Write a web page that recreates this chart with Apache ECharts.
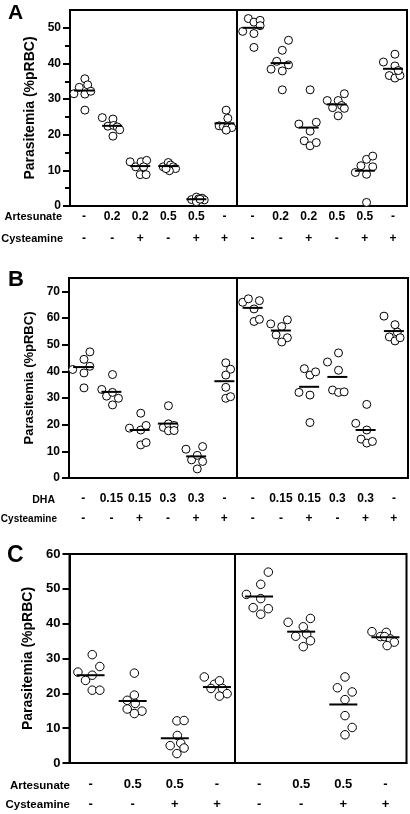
<!DOCTYPE html>
<html><head><meta charset="utf-8">
<script src="https://cdn.jsdelivr.net/npm/echarts@6/dist/echarts.min.js"></script>
<style>html,body{margin:0;padding:0;background:#fff}#c{width:410px;height:814px}</style>
</head><body><div id="c"></div>
<script>
const FONT = '"Liberation Sans", Arial, sans-serif';

// ---------- Panel A ----------
const aRow1 = ['-','0.2','0.2','0.5','0.5','-','-','0.2','0.2','0.5','0.5','-'];
const aRow2 = ['-','-','+','-','+','+','-','-','+','-','+','+'];
const aValues = [
  [31.5,33.3,35.7,34.0,31.4,32.2,26.9],
  [24.8,22.4,24.4,22.6,22.2,21.4,19.6],
  [12.4,11.0,12.4,12.8,11.0,8.8,8.8],
  [11.0,12.2,11.5,11.0,10.5,9.9,10.5],
  [1.8,2.5,2.0,1.2,2.2,1.7,1.9],
  [26.9,24.6,22.5,22.3,22.0,22.0,21.3],
  [52.6,51.6,52.1,49.0,50.6,48.4,44.5],
  [46.5,43.7,40.6,38.4,37.9,39.6,32.6],
  [32.6,23.0,23.5,21.0,18.3,16.9,17.8],
  [29.6,27.6,29.6,31.5,28.2,27.4,25.3],
  [9.4,11.3,13.1,14.0,11.0,8.9,1.0],
  [40.4,42.6,39.3,36.6,35.9,36.6,38.0]
];
const aOffsets = [
  [-0.36,-0.17,0.03,0.13,0.03,0.24,0.03],
  [-0.35,-0.15,0.03,0.05,0.18,0.27,0.03],
  [-0.36,-0.16,0.03,0.23,0.12,0.0,0.21],
  [-0.18,0.0,0.08,0.18,0.26,0.04,-0.08],
  [-0.17,0.0,0.08,0.0,0.2,0.28,0.13],
  [0.06,0.12,-0.19,-0.04,0.1,0.26,0.06],
  [-0.15,0.05,0.27,-0.35,0.27,0.05,0.05],
  [0.28,0.06,-0.14,-0.34,0.06,0.28,0.06],
  [0.05,-0.35,0.27,0.05,-0.16,0.05,0.27],
  [-0.34,-0.15,0.05,0.27,0.17,0.27,0.05],
  [-0.34,-0.14,0.06,0.28,0.28,0.06,0.06],
  [-0.34,0.07,0.07,-0.13,0.07,0.25,0.19]
];
const aMeans = [32.4,22.5,11.2,11.2,1.9,23.2,50.0,40.1,22.0,28.5,9.9,38.5];
const aYTicks = [0,10,20,30,40,50];
const aYMinor = [5,15,25,35,45];

// ---------- Panel B ----------
const bRow1 = ['-','0.15','0.15','0.3','0.3','-','-','0.15','0.15','0.3','0.3','-'];
const bRow2 = ['-','-','+','-','+','+','-','-','+','-','+','+'];
const bValues = [
  [40.7,44.5,47.3,39.4,41.9,33.8],
  [33.2,38.8,30.7,32.1,29.9,27.4],
  [18.7,24.3,18.0,19.7,12.4,13.3],
  [27.1,19.0,20.3,19.7,17.7,17.8],
  [10.8,6.8,8.5,11.8,6.2,3.4],
  [43.2,40.8,38.6,34.0,29.9,30.5],
  [65.9,67.2,66.5,63.4,58.7,59.5],
  [57.8,56.8,59.3,53.7,52.6,51.0],
  [41.0,38.6,39.8,32.1,31.1,20.8],
  [43.5,46.9,40.4,33.0,32.1,32.3],
  [27.6,20.5,18.0,14.6,13.1,13.7],
  [60.7,57.5,54.7,52.9,51.4,52.6]
];
const bOffsets = [
  [-0.37,0.03,0.24,0.03,0.24,0.03],
  [-0.34,0.04,-0.17,0.04,0.25,0.04],
  [-0.36,0.04,0.04,0.23,0.04,0.23],
  [0.02,-0.16,0.02,0.22,0.02,0.22],
  [-0.36,-0.16,0.04,0.23,0.23,0.04],
  [0.05,0.22,0.05,0.05,0.05,0.22],
  [-0.35,-0.15,0.24,0.05,0.05,0.24],
  [-0.36,0.03,0.23,-0.17,0.23,0.03],
  [-0.17,0.03,0.23,-0.36,0.03,0.03],
  [-0.35,0.04,0.04,-0.17,0.04,0.24],
  [0.04,-0.35,0.04,-0.16,0.04,0.24],
  [-0.35,0.04,0.12,-0.16,0.04,0.22]
];
const bMeans = [41.6,32.3,18.0,20.4,8.1,36.3,63.8,55.3,34.2,37.9,18.0,55.1];
const bYTicks = [0,10,20,30,40,50,60,70];

// ---------- Panel C ----------
const cRow1 = ['-','0.5','0.5','-','-','0.5','0.5','-'];
const cRow2 = ['-','-','+','+','-','-','+','+'];
const cValues = [
  [26.1,23.7,31.1,25.2,27.7,20.9,20.9],
  [25.8,19.5,18.0,17.1,15.5,14.9,14.2],
  [12.1,12.2,7.9,5.0,5.7,4.3,2.7],
  [24.7,22.6,23.6,21.4,21.4,19.9,19.2],
  [54.8,51.3,48.4,47.2,44.6,44.3,42.7],
  [40.4,41.5,39.1,36.4,37.0,35.1,33.4],
  [24.7,21.6,20.4,18.2,13.6,10.2,8.1],
  [37.7,37.5,36.3,36.3,35.6,34.7,33.7]
];
const cOffsets = [
  [-0.30,-0.12,0.04,0.04,0.22,0.04,0.22],
  [0.04,0.04,-0.13,0.06,-0.13,0.22,0.04],
  [0.05,0.22,0.06,-0.11,0.14,0.22,0.05],
  [-0.30,-0.06,0.06,-0.14,0.13,0.24,0.06],
  [0.22,0.04,-0.30,0.04,-0.14,0.22,0.04],
  [-0.31,0.22,0.05,-0.13,0.13,0.22,0.05],
  [0.04,-0.14,0.21,0.04,0.04,0.21,0.04],
  [-0.32,0.02,-0.12,-0.02,0.12,0.21,0.04]
];
const cMeans = [25.2,17.8,7.1,21.8,47.8,37.7,16.8,36.1];
const cYTicks = [0,10,20,30,40,50,60];

function points(values, offsets) {
  const out = [];
  values.forEach((g, i) => g.forEach((v, j) => out.push([i + offsets[i][j], v])));
  return out;
}
function meanPts(means) { return means.map((m, i) => [i, m]); }

const panels = [
  {grid:{left:70, top:10, width:337, height:196}, n:12, max:55, ticks:aYTicks, minor:aYMinor,
   row1:aRow1, row2:aRow2, values:aValues, offsets:aOffsets, means:aMeans, divider:5.45,
   lh:22, margin:0, tickFont:12, nameFont:14, nameGap:29, lineW:20, sym:8},
  {grid:{left:69, top:278, width:339, height:200}, n:12, max:75, ticks:bYTicks, minor:null,
   row1:bRow1, row2:bRow2, values:bValues, offsets:bOffsets, means:bMeans, divider:5.45,
   lh:20, margin:11, tickFont:12, nameFont:13, nameGap:29, lineW:20, sym:8},
  {grid:{left:69.5, top:554, width:337, height:211}, n:8, max:60, ticks:cYTicks, minor:null,
   row1:cRow1, row2:cRow2, values:cValues, offsets:cOffsets, means:cMeans, divider:3.42,
   lh:20, margin:11, tickFont:13, nameFont:14, nameGap:31, lineW:28, sym:8.5}
];

const option = {
  animation:false,
  backgroundColor:'#fff',
  textStyle:{fontFamily:FONT},
  grid:[], xAxis:[], yAxis:[], series:[], graphic:[]
};

panels.forEach((p, k) => {
  option.grid.push(Object.assign({show:true, borderColor:'#000', borderWidth:2, backgroundColor:'transparent'}, p.grid));
  const cats = p.row1.map((_, i) => String(i));
  option.xAxis.push({
    type:'category', gridIndex:k, data:cats, boundaryGap:true, position:'bottom',
    axisLine:{onZero:false, lineStyle:{color:'#000', width:2}},
    axisTick:{alignWithLabel:true, interval:0, length:6, lineStyle:{color:'#000', width:2}},
    axisLabel:{interval:0, margin:p.margin, color:'#000', fontWeight:'bold', fontSize:p.tickFont,
      fontFamily:FONT, lineHeight:p.lh, formatter:(v, i) => p.row1[i] + '\n' + p.row2[i]},
    splitLine:{show:false}
  });
  option.xAxis.push({type:'value', gridIndex:k, min:-0.5, max:p.n - 0.5, show:false,
    axisLine:{onZero:false}, splitLine:{show:false}});
  option.yAxis.push({
    type:'value', gridIndex:k, min:0, max:p.max, position:'left',
    name:'Parasitemia (%pRBC)', nameLocation:'middle', nameGap:p.nameGap,
    nameTextStyle:{fontWeight:'bold', fontSize:p.nameFont, color:'#000', fontFamily:FONT},
    axisLine:{show:true, onZero:false, lineStyle:{color:'#000', width:2}},
    axisTick:{show:true, length:7, customValues:p.ticks, lineStyle:{color:'#000', width:2}},
    axisLabel:{customValues:p.ticks, color:'#000', fontWeight:'bold', fontSize:p.tickFont, margin:9, fontFamily:FONT},
    splitLine:{show:false}
  });
  const yIdx = option.yAxis.length - 1;
  if (p.minor) {
    option.yAxis.push({
      type:'value', gridIndex:k, min:0, max:p.max, position:'left', offset:0,
      axisLine:{show:false, onZero:false},
      axisTick:{show:true, length:5, customValues:p.minor, lineStyle:{color:'#000', width:2}},
      axisLabel:{show:false}, splitLine:{show:false}
    });
  }
  const xIdx = k * 2 + 1;
  option.series.push({
    type:'scatter', xAxisIndex:xIdx, yAxisIndex:yIdx, symbol:'circle', symbolSize:p.sym,
    itemStyle:{color:'#fff', borderColor:'#000', borderWidth:1, opacity:1},
    data:points(p.values, p.offsets), z:3, silent:true
  });
  option.series.push({
    type:'scatter', xAxisIndex:xIdx, yAxisIndex:yIdx, symbol:'rect', symbolSize:[p.lineW, 2],
    itemStyle:{color:'#000', opacity:1},
    data:meanPts(p.means), z:4, silent:true,
    markLine:{silent:true, symbol:['none','none'], label:{show:false},
      lineStyle:{color:'#000', width:2, type:'solid'}, data:[{xAxis:p.divider}]}
  });
});

const txt = (text, x, y, size, align) => ({
  type:'text', x:x, y:y,
  style:{text:text, fill:'#000', font:'bold ' + size + 'px ' + FONT, textAlign:align || 'right', textVerticalAlign:'middle'}
});
option.graphic = [
  txt('A', 8, 13, 21, 'left'),
  txt('B', 8, 280, 22, 'left'),
  txt('C', 7, 556, 23, 'left'),
  txt('Artesunate', 62, 217, 11),
  txt('Cysteamine', 63, 239, 11),
  txt('DHA', 55, 500, 10.5),
  txt('Cysteamine', 57, 519, 10),
  txt('Artesunate', 70, 786, 11.5),
  txt('Cysteamine', 70, 805, 11.5)
];

const chart = echarts.init(document.getElementById('c'), null, {renderer:'canvas'});
chart.setOption(option);
</script></body></html>
